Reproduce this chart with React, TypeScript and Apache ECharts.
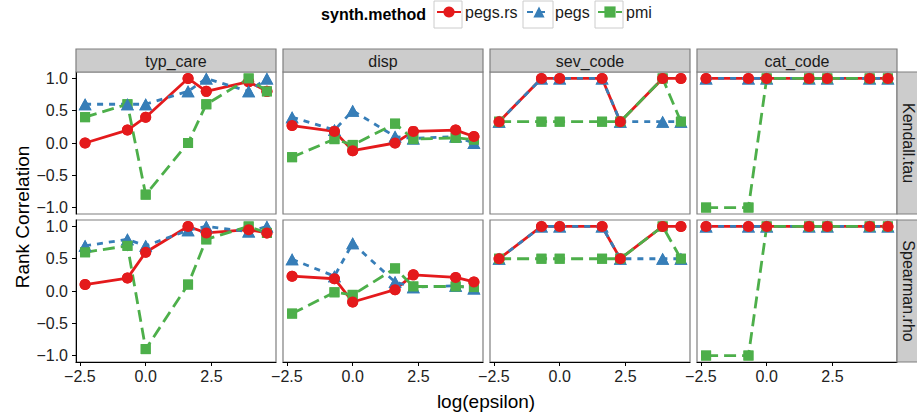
import React, { useEffect, useRef } from "react";
import * as echarts from "echarts";

// ---- data ----
const EPSILON = [0.1, 0.5, 1, 5, 10, 50, 100];
const FEATURES = ["typ_care", "disp", "sev_code", "cat_code"];
const METRICS = ["Kendall.tau", "Spearman.rho"];
const METHODS = ["pegs.rs", "pegs", "pmi"];
const X_TICKS = [-2.5, 0, 2.5];
const Y_TICKS = [-1, -0.5, 0, 0.5, 1];

// Kendall.tau
const KT_TYP_PEGSRS = [0.0, 0.2, 0.4, 1.0, 0.8, 0.95, 0.8];
const KT_TYP_PEGS = [0.6, 0.6, 0.6, 0.8, 1.0, 0.8, 1.0];
const KT_TYP_PMI = [0.4, 0.6, -0.8, 0.0, 0.6, 1.0, 0.8];
const KT_DISP_PEGSRS = [0.27, 0.18, -0.12, 0.0, 0.18, 0.2, 0.1];
const KT_DISP_PEGS = [0.4, 0.2, 0.5, 0.1, 0.07, 0.1, 0.0];
const KT_DISP_PMI = [-0.22, 0.06, -0.03, 0.3, 0.06, 0.08, 0.05];
const KT_SEV_PEGSRS = [0.33, 1, 1, 1, 0.33, 1, 1];
const KT_SEV_PEGS = [0.33, 1, 1, 1, 0.33, 0.33, 0.33];
const KT_SEV_PMI = [0.33, 0.33, 0.33, 0.33, 0.33, 1, 0.33];
const KT_CAT_PEGSRS = [1, 1, 1, 1, 1, 1, 1];
const KT_CAT_PEGS = [1, 1, 1, 1, 1, 1, 1];
const KT_CAT_PMI = [-1, -1, 1, 1, 1, 1, 1];

// Spearman.rho
const SR_TYP_PEGSRS = [0.1, 0.2, 0.6, 1.0, 0.9, 0.95, 0.9];
const SR_TYP_PEGS = [0.7, 0.8, 0.7, 0.94, 1.0, 0.92, 1.0];
const SR_TYP_PMI = [0.6, 0.7, -0.9, 0.1, 0.8, 1.0, 0.9];
const SR_DISP_PEGSRS = [0.23, 0.19, -0.17, 0.02, 0.25, 0.21, 0.14];
const SR_DISP_PEGS = [0.49, 0.23, 0.74, 0.14, 0.06, 0.08, 0.04];
const SR_DISP_PMI = [-0.35, -0.02, -0.06, 0.35, 0.07, 0.07, 0.06];
const SR_SEV_PEGSRS = [0.5, 1, 1, 1, 0.5, 1, 1];
const SR_SEV_PEGS = [0.5, 1, 1, 1, 0.5, 0.5, 0.5];
const SR_SEV_PMI = [0.5, 0.5, 0.5, 0.5, 0.5, 1, 0.5];
const SR_CAT_PEGSRS = [1, 1, 1, 1, 1, 1, 1];
const SR_CAT_PEGS = [1, 1, 1, 1, 1, 1, 1];
const SR_CAT_PMI = [-1, -1, 1, 1, 1, 1, 1];

const VALUES = [
  [
    [KT_TYP_PEGSRS, KT_TYP_PEGS, KT_TYP_PMI],
    [KT_DISP_PEGSRS, KT_DISP_PEGS, KT_DISP_PMI],
    [KT_SEV_PEGSRS, KT_SEV_PEGS, KT_SEV_PMI],
    [KT_CAT_PEGSRS, KT_CAT_PEGS, KT_CAT_PMI],
  ],
  [
    [SR_TYP_PEGSRS, SR_TYP_PEGS, SR_TYP_PMI],
    [SR_DISP_PEGSRS, SR_DISP_PEGS, SR_DISP_PMI],
    [SR_SEV_PEGSRS, SR_SEV_PEGS, SR_SEV_PMI],
    [SR_CAT_PEGSRS, SR_CAT_PEGS, SR_CAT_PMI],
  ],
];

// ---- styling ----
const FONT = "Liberation Sans, Arial, sans-serif";
const COLORS = ["#E41A1C", "#377EB8", "#4DAF4A"];
const SYMBOLS = ["circle", "triangle", "rect"];
const SYMBOL_SIZES: any[] = [11, [13, 12], 10];
const DASHES: any[] = ["solid", [6, 6], [12, 6]];
const COL_LEFT = [76, 283, 490, 697];
const COL_W = 200;
const ROW_TOP = [72, 220];
const ROW_H = 142;

const fmt = (v: number) => {
  const s = Math.abs(v).toFixed(1);
  return v < 0 ? "\u2212" + s : s;
};

export default function App() {
  const ref = useRef<HTMLDivElement>(null);
  useEffect(() => {
    if (!ref.current) return;
    const chart = echarts.init(ref.current, null, { renderer: "svg" });
    const X = EPSILON.map((e) => Math.log(e));
    const xr = X[X.length - 1] - X[0];
    const XMIN = X[0] - 0.05 * xr;
    const XMAX = X[X.length - 1] + 0.05 * xr;

    const grids: any[] = [];
    const xAxes: any[] = [];
    const yAxes: any[] = [];
    const lineSeries: any[] = [];
    const pointSeries: any[] = [];
    const graphic: any[] = [];

    for (let r = 0; r < 2; r++) {
      for (let c = 0; c < 4; c++) {
        const gi = r * 4 + c;
        grids.push({
          left: COL_LEFT[c],
          top: ROW_TOP[r],
          width: COL_W,
          height: ROW_H,
          show: true,
          borderColor: "#7F7F7F",
          borderWidth: 1.2,
          backgroundColor: "#fff",
        });
        xAxes.push({
          gridIndex: gi,
          type: "value",
          min: XMIN,
          max: XMAX,
          axisLine: { show: r === 1, onZero: false, lineStyle: { color: "#000", width: 1 } },
          axisTick: { show: r === 1, length: 4, customValues: X_TICKS, lineStyle: { color: "#000" } },
          axisLabel: {
            show: r === 1,
            customValues: X_TICKS,
            formatter: (v: number) => fmt(v),
            color: "#222",
            fontSize: 16,
            fontFamily: FONT,
            margin: 6,
          },
          splitLine: { show: false },
        });
        yAxes.push({
          gridIndex: gi,
          type: "value",
          min: -1.1,
          max: 1.1,
          axisLine: { show: c === 0, onZero: false, lineStyle: { color: "#000", width: 1 } },
          axisTick: { show: c === 0, length: 4, customValues: Y_TICKS, lineStyle: { color: "#000" } },
          axisLabel: {
            show: c === 0,
            customValues: Y_TICKS,
            formatter: (v: number) => fmt(v),
            color: "#222",
            fontSize: 16,
            fontFamily: FONT,
            margin: 8,
          },
          splitLine: { show: false },
        });
        // point stacking order (bottom -> top) varies by panel, as in the reference
        const pointOrder = r === 0 && c === 0 ? [0, 2, 1] : [1, 2, 0];
        for (let m = 0; m < 3; m++) {
          const vals = VALUES[r][c][m];
          const data = X.map((x, i) => [x, vals[i]]);
          lineSeries.push({
            name: METHODS[m],
            type: "line",
            xAxisIndex: gi,
            yAxisIndex: gi,
            data,
            symbol: SYMBOLS[m],
            symbolSize: SYMBOL_SIZES[m],
            showAllSymbol: true,
            color: COLORS[m],
            itemStyle: { color: COLORS[m] },
            lineStyle: { color: COLORS[m], width: 2.8, type: DASHES[m] },
            z: 2 + m,
            clip: false,
          });
          pointSeries.push({
            name: METHODS[m],
            type: "scatter",
            xAxisIndex: gi,
            yAxisIndex: gi,
            data,
            symbol: SYMBOLS[m],
            symbolSize: SYMBOL_SIZES[m],
            itemStyle: { color: COLORS[m], opacity: 1 },
            z: 10 + pointOrder.indexOf(m),
            clip: false,
          });
        }
      }
    }

    // column strips
    for (let c = 0; c < 4; c++) {
      graphic.push({
        type: "rect",
        shape: { x: COL_LEFT[c], y: 49, width: COL_W, height: 23 },
        style: { fill: "#CCCCCC", stroke: "#7F7F7F", lineWidth: 1.2 },
        z: 1,
      });
      graphic.push({
        type: "text",
        x: COL_LEFT[c] + COL_W / 2,
        y: 61,
        style: {
          text: FEATURES[c],
          fill: "#1A1A1A",
          font: `16px ${FONT}`,
          align: "center",
          verticalAlign: "middle",
        },
        z: 2,
      });
    }
    // row strips
    for (let r = 0; r < 2; r++) {
      graphic.push({
        type: "rect",
        shape: { x: 897, y: ROW_TOP[r], width: 24, height: ROW_H },
        style: { fill: "#CCCCCC", stroke: "#7F7F7F", lineWidth: 1.2 },
        z: 1,
      });
      graphic.push({
        type: "text",
        x: 908,
        y: ROW_TOP[r] + ROW_H / 2,
        rotation: -Math.PI / 2,
        style: {
          text: METRICS[r],
          fill: "#1A1A1A",
          font: `16px ${FONT}`,
          align: "center",
          verticalAlign: "middle",
        },
        z: 2,
      });
    }
    // axis titles
    graphic.push({
      type: "text",
      x: 22,
      y: 217,
      rotation: Math.PI / 2,
      style: {
        text: "Rank Correlation",
        fill: "#000",
        font: `19px ${FONT}`,
        align: "center",
        verticalAlign: "middle",
      },
    });
    graphic.push({
      type: "text",
      x: 486,
      y: 401,
      style: {
        text: "log(epsilon)",
        fill: "#000",
        font: `19px ${FONT}`,
        align: "center",
        verticalAlign: "middle",
      },
    });
    // legend title and key boxes
    graphic.push({
      type: "text",
      x: 426,
      y: 14,
      style: {
        text: "synth.method",
        fill: "#000",
        font: `bold 16px ${FONT}`,
        align: "right",
        verticalAlign: "middle",
      },
    });
    const boxes = [
      [434, 28],
      [523, 30],
      [595, 28],
    ];
    boxes.forEach(([bx, bw]) =>
      graphic.push({
        type: "rect",
        shape: { x: bx, y: 1, width: bw, height: 27 },
        style: { fill: "#fff", stroke: "#CCCCCC", lineWidth: 1 },
        z: 0,
      })
    );

    const legendLefts = [436, 526, 597];
    const legends = METHODS.map((name, i) => ({
      data: [name],
      left: legendLefts[i],
      top: 4,
      padding: 0,
      itemWidth: 24,
      itemHeight: 14,
      itemGap: 0,
      textStyle: { fontSize: 16, fontFamily: FONT, color: "#1A1A1A", padding: [0, 0, 0, -1] },
      selectedMode: true,
    }));

    chart.setOption({
      animation: false,
      backgroundColor: "#fff",
      textStyle: { fontFamily: FONT },
      grid: grids,
      xAxis: xAxes,
      yAxis: yAxes,
      series: [...lineSeries, ...pointSeries],
      legend: legends,
      graphic,
    });
    return () => chart.dispose();
  }, []);
  return (
    <div
      ref={ref}
      style={{ position: "absolute", left: 0, top: 0, width: 917, height: 419 }}
    />
  );
}
